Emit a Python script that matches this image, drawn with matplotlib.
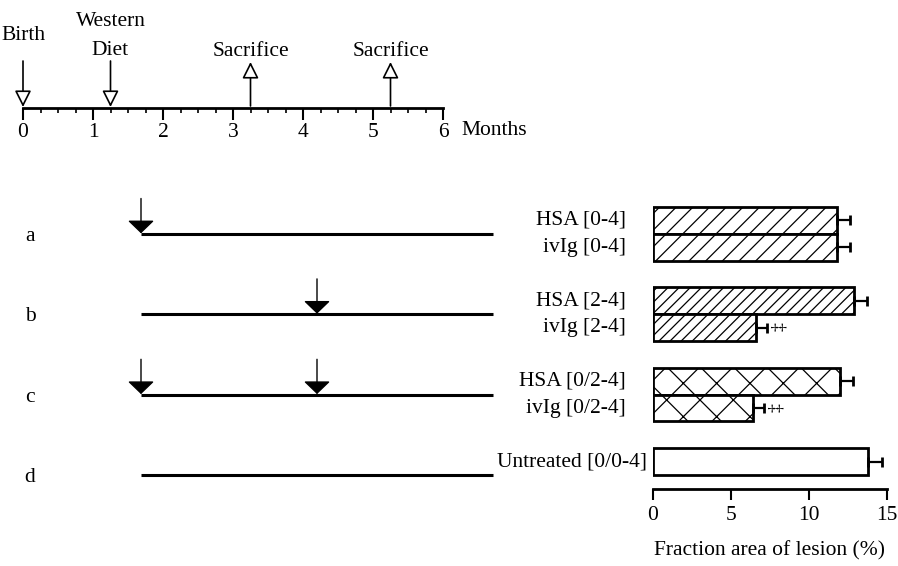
import matplotlib
matplotlib.use("Agg")
import matplotlib.pyplot as plt
from matplotlib.patches import ArrowStyle
from matplotlib.transforms import blended_transform_factory

# timeline events (months)
event_labels = ["Birth", "Western\nDiet", "Sacrifice", "Sacrifice"]
event_months = [0, 1.25, 3.25, 5.25]
event_up = [False, False, True, True]

# treatment schedules
rows = ["a", "b", "c", "d"]
injections = [[1.25], [3.25], [1.25, 3.25], []]
treat_start = 1.25
treat_end = 5.25

# lesion results
bar_labels = ["HSA [0-4]", "ivIg [0-4]", "HSA [2-4]", "ivIg [2-4]",
              "HSA [0/2-4]", "ivIg [0/2-4]", "Untreated [0/0-4]"]
bar_group = [0, 0, 1, 1, 2, 2, 3]
bar_member = [0, 1, 0, 1, 0, 1, 0]
lesion = [11.8, 11.8, 12.9, 6.6, 12.0, 6.4, 13.8]
lesion_err = [0.8, 0.8, 0.8, 0.7, 0.8, 0.7, 0.9]
significant = [False, False, False, True, False, True, False]
hatches = ["//", "//", "///", "///", "x", "x", ""]

plt.rcParams["font.family"] = "Liberation Serif"
plt.rcParams["hatch.linewidth"] = 0.9
FS = 15.5

W, H = 898, 566
fig = plt.figure(figsize=(W / 100, H / 100), dpi=100)


def box(x0, y0, x1, y1):
    return [x0 / W, 1 - y1 / H, (x1 - x0) / W, (y1 - y0) / H]


# ---- top timeline ----
ax_t = fig.add_axes(box(23, 0, 443, 108))
ax_t.set_xlim(0, 6)
ax_t.set_ylim(0, 108)
for s in ["left", "right", "top"]:
    ax_t.spines[s].set_visible(False)
ax_t.spines["bottom"].set_linewidth(2)
ax_t.set_yticks([])
ax_t.set_xticks(range(7))
ax_t.set_xticks([m / 4 for m in range(25)], minor=True)
ax_t.tick_params(axis="x", which="major", direction="out", length=8.5, width=1.5,
                 labelsize=FS, pad=2.5)
ax_t.tick_params(axis="x", which="minor", direction="out", length=3.6, width=1.2)
ax_t.patch.set_visible(False)
ax_t.annotate("Months", xy=(6, 0), xycoords="data", xytext=(13.5, -16.5),
              textcoords="offset points", fontsize=FS, va="center", ha="left",
              annotation_clip=False)

open_head = ArrowStyle("-|>", head_length=10, head_width=5)
for lab, t, up in zip(event_labels, event_months, event_up):
    if up:
        ax_t.annotate("", xy=(t, 46), xytext=(t, 2),
                      arrowprops=dict(arrowstyle=open_head, mutation_scale=1,
                                      fc="white", ec="black", lw=1.2,
                                      shrinkA=0, shrinkB=0))
        ax_t.text(t, 56, lab, ha="center", va="center", fontsize=FS)
    else:
        ax_t.annotate("", xy=(t, 1), xytext=(t, 47),
                      arrowprops=dict(arrowstyle=open_head, mutation_scale=1,
                                      fc="white", ec="black", lw=1.2,
                                      shrinkA=0, shrinkB=0))
        ax_t.text(t, 72, lab, ha="center", va="center", fontsize=FS,
                  linespacing=1.65)

# ---- lesion bars ----
y_top, y_bot = -0.6, 10.02
ax_b = fig.add_axes(box(653, 204.4, 887, 489))
pos = [3 * g + m for g, m in zip(bar_group, bar_member)]
ax_b.barh(pos, lesion, height=1.0, color="white", edgecolor="black",
          linewidth=2, hatch=hatches)
ax_b.errorbar(lesion, pos, xerr=[[0] * len(lesion), lesion_err], fmt="none",
              ecolor="black", elinewidth=1.6, capsize=3.3, capthick=2)
ax_b.set_xlim(0, 15)
ax_b.set_ylim(y_bot, y_top)
for s in ["left", "right", "top"]:
    ax_b.spines[s].set_visible(False)
ax_b.spines["bottom"].set_linewidth(2)
ax_b.set_yticks([])
ax_b.set_xticks([0, 5, 10, 15])
ax_b.tick_params(axis="x", direction="out", length=8, width=1.5,
                 labelsize=FS, pad=4)
ax_b.set_xlabel("Fraction area of lesion (%)", fontsize=FS, labelpad=12)
ax_b.patch.set_visible(False)

for lab, p, g, v, e, sig in zip(bar_labels, pos, bar_group, lesion,
                                 lesion_err, significant):
    single = bar_group.count(g) == 1
    ax_b.annotate(lab, xy=(0, p), xycoords=("axes fraction", "data"),
                  xytext=(-4 if single else -19.5, 0), textcoords="offset points",
                  ha="right", va="center", fontsize=FS, annotation_clip=False)
    if sig:
        ax_b.annotate("\u2021", xy=(v + e, p), xytext=(9, 0.5),
                      textcoords="offset points", ha="center", va="center",
                      rotation=90, fontsize=13)

# ---- schedules ----
ax_s = fig.add_axes(box(141, 204.4, 493, 489))
ax_s.set_xlim(treat_start, treat_end)
ax_s.set_ylim(y_bot, y_top)
ax_s.axis("off")
fill_head = ArrowStyle("-|>", head_length=8, head_width=8.3)
letter_tr = blended_transform_factory(fig.transFigure, ax_s.transData)
for i, (r, inj) in enumerate(zip(rows, injections)):
    yl = 3 * i + 0.5
    ax_s.plot([treat_start, treat_end], [yl, yl], color="black", lw=2.2,
              clip_on=False, solid_capstyle="butt")
    for t in inj:
        ax_s.annotate("", xy=(t, yl - 0.02), xytext=(t, yl - 1.32),
                      arrowprops=dict(arrowstyle=fill_head, mutation_scale=1,
                                      fc="black", ec="black", lw=1.0,
                                      shrinkA=0, shrinkB=0))
    ax_s.text(30 / W, yl + 0.1, r, transform=letter_tr, ha="center",
              va="center", fontsize=FS)

fig.savefig("out.png", dpi=100)
